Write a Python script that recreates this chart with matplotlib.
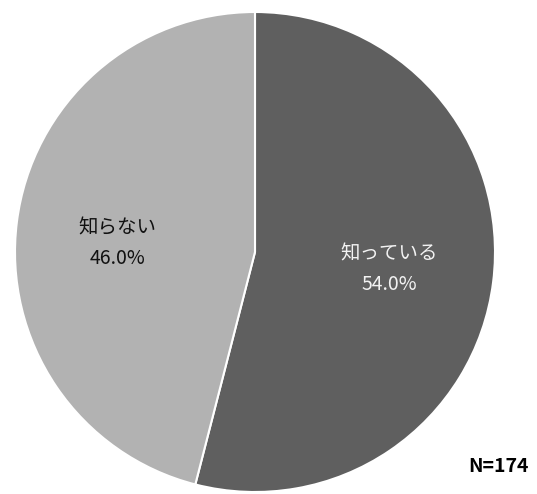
import matplotlib
matplotlib.use("Agg")
import matplotlib.pyplot as plt

# Font list: CJK first, DejaVu as fallback for anything missing
plt.rcParams['font.family'] = ['Noto Sans CJK JP', 'DejaVu Sans']

# Chart data
labels = ["知っている", "知らない"]
shares = [54.0, 46.0]
colors = ["#5f5f5f", "#b2b2b2"]
text_colors = ["#f2f2f2", "#111111"]
sample_size = 174

# Label anchor points inside each slice (fraction of the radius)
label_pos = [(0.56, -0.07), (-0.575, 0.035)]

# Figure is 537x494 px at 100 dpi; pie is ~480 px across
fig = plt.figure(figsize=(5.37, 4.94), dpi=100)
ax = fig.add_axes([15 / 537, 2 / 494, 480 / 537, 480 / 494])

texts = ["{}\n{:.1f}%".format(lab, val) for lab, val in zip(labels, shares)]
wedges, label_texts = ax.pie(shares, labels=texts, colors=colors,
                             startangle=90, counterclock=False,
                             wedgeprops=dict(edgecolor="white", linewidth=1.5),
                             textprops=dict(fontsize=14, linespacing=1.6))

# Center the two-line labels on their anchor points
for txt, col, pos in zip(label_texts, text_colors, label_pos):
    txt.set_position(pos)
    txt.set_horizontalalignment("center")
    txt.set_verticalalignment("center")
    txt.set_color(col)

ax.set_xlim(-1.0, 1.0)
ax.set_ylim(-1.0, 1.0)
ax.set_aspect("equal")

# Sample size in the bottom-right corner
fig.text(0.929, 0.055, "N={}".format(sample_size), ha="center", va="center",
         fontsize=14, fontweight="bold", color="black")

fig.savefig("out.png", dpi=100, facecolor="white")
